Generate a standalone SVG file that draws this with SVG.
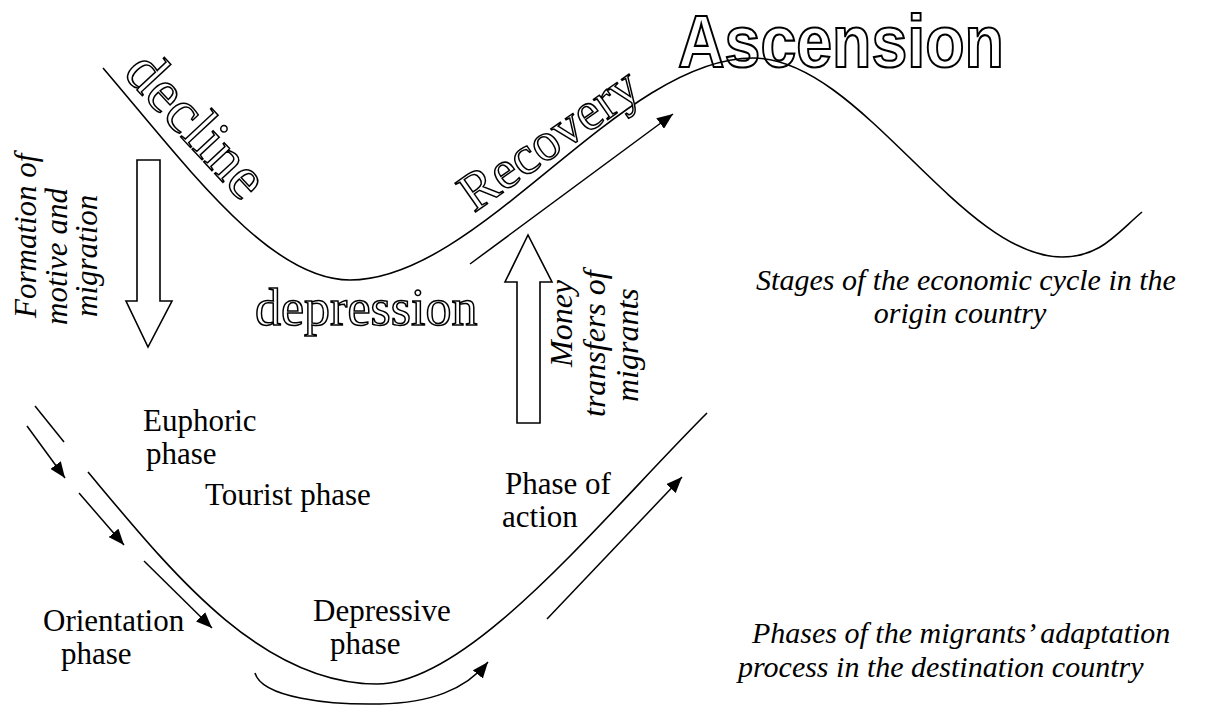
<svg xmlns="http://www.w3.org/2000/svg" width="1210" height="705" viewBox="0 0 1210 705">
<style>
.c{fill:none;stroke:#000;stroke-width:1.6}
.l{fill:none;stroke:#000;stroke-width:1.5}
.a{fill:none;stroke:#000;stroke-width:1.5;marker-end:url(#ah)}
.h{fill:#fff;stroke:#000;stroke-width:1.6}
.o{font-family:"Liberation Serif",serif;fill:#fff;stroke:#000;stroke-width:1.5}
.s{font-family:"Liberation Serif",serif;font-size:31px;fill:#000}
.i{font-family:"Liberation Serif",serif;font-style:italic;fill:#000}
</style>
<defs>
<marker id="ah" viewBox="0 0 16 13" refX="16" refY="6.5" markerWidth="16" markerHeight="13" markerUnits="userSpaceOnUse" orient="auto">
<path d="M0,0 L16,6.5 L0,13 z" fill="#000"/>
</marker>
</defs>
<rect width="1210" height="705" fill="#fff"/>

<g id="stage-ascension">
<text x="678" y="67" font-family="Liberation Sans, Arial, sans-serif" font-weight="bold" font-size="75" textLength="326" lengthAdjust="spacingAndGlyphs" fill="#fff" stroke="#000" stroke-width="2.2">Ascension</text>
</g>

<g id="connectors">
<path class="c" d="M103,68 C190,170 270,280 350,280 C480,280 620,58 753,58 C860,58 960,257 1062,257 C1100,257 1115,235 1142,212"/>
<path class="a" d="M470,264 L673,114"/>
<path class="c" d="M88,472 C170,570 260,684 377,684 C470,684 600,520 707,413"/>
<path class="l" d="M35,406 L64,442"/>
<path class="a" d="M27,426 L65,478"/>
<path class="a" d="M79,493 L124,545"/>
<path class="a" d="M144,561 L212,628"/>
<path class="a" d="M255,673 C262,698 330,705 380,704 C430,703 465,690 488,662"/>
<path class="a" d="M547,619 L682,477"/>
</g>

<g id="stage-decline">
<text class="o" font-size="61" transform="translate(122,74) rotate(47)">decline</text>
</g>
<g id="stage-recovery">
<text class="o" font-size="54" transform="translate(474,213) rotate(-35)">Recovery</text>
</g>
<g id="stage-depression">
<text class="o" font-size="52" x="255" y="325">depression</text>
</g>

<g id="arrow-migration">
<polygon class="h" points="137,160 160,160 160,301 172,301 148,347 126,301 137,301"/>
<text class="i" font-size="31" transform="translate(36,318) rotate(-90)">Formation of</text>
<text class="i" font-size="31" transform="translate(67,325) rotate(-90)">motive and</text>
<text class="i" font-size="31" transform="translate(97,317) rotate(-90)">migration</text>
</g>

<g id="arrow-money">
<polygon class="h" points="517,423 540,423 540,282 552,282 528,235 505,282 517,282"/>
<text class="i" font-size="32" transform="translate(572,367) rotate(-90)">Money</text>
<text class="i" font-size="32" transform="translate(605,417) rotate(-90)">transfers of</text>
<text class="i" font-size="32" transform="translate(638,402) rotate(-90)">migrants</text>
</g>

<g id="label-stages">
<text class="i" font-size="30" text-anchor="middle" x="966" y="290">Stages of the economic cycle in the</text>
<text class="i" font-size="30" text-anchor="middle" x="960" y="323">origin country</text>
</g>

<g id="label-phases">
<text class="i" font-size="30" x="752" y="643">Phases of the migrants’ adaptation</text>
<text class="i" font-size="30" x="738" y="677">process in the destination country</text>
</g>

<g id="phase-euphoric">
<text class="s" x="143" y="431">Euphoric</text>
<text class="s" x="146" y="464">phase</text>
</g>
<g id="phase-tourist">
<text class="s" x="205" y="505">Tourist phase</text>
</g>
<g id="phase-orientation">
<text class="s" x="43" y="631">Orientation</text>
<text class="s" x="61" y="664">phase</text>
</g>
<g id="phase-depressive">
<text class="s" x="313" y="621">Depressive</text>
<text class="s" x="330" y="654">phase</text>
</g>
<g id="phase-action">
<text class="s" x="505" y="494">Phase of</text>
<text class="s" x="502" y="527">action</text>
</g>
</svg>
